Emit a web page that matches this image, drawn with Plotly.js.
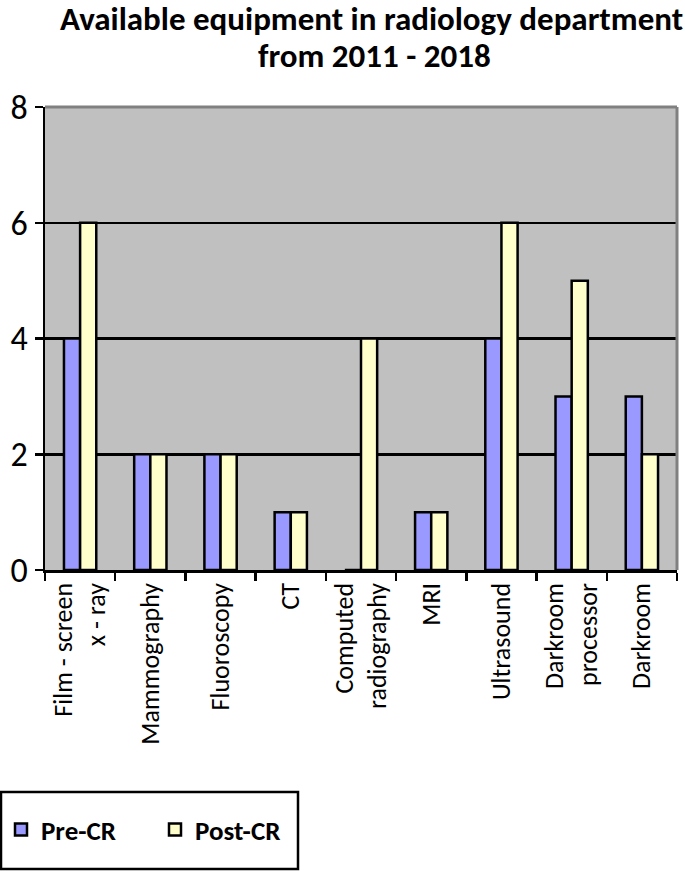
<!DOCTYPE html>
<html>
<head>
<meta charset="utf-8">
<script src="https://cdn.plot.ly/plotly-3.0.1.min.js"></script>
<style>html,body{margin:0;padding:0;background:#fff;}#chart{width:685px;height:871px;}</style>
</head>
<body>
<div id="chart"></div>
<script>
var categories = ["Film - screen<br>x - ray", "Mammography", "Fluoroscopy", "CT", "Computed<br>radiography", "MRI", "Ultrasound", "Darkroom<br>processor", "Darkroom"];
var preCR = [4, 2, 2, 1, 0, 1, 4, 3, 3];
var postCR = [6, 2, 2, 1, 4, 1, 6, 5, 2];
var seriesNames = ["Pre-CR", "Post-CR"];
var titleLines = ["Available equipment in radiology department", "from 2011 - 2018"];
var yTicks = [0, 2, 4, 6, 8];

var FONT = "Carlito, 'Open Sans', sans-serif";
var L = 45, R = 8, T = 107, B = 301, W = 685, H = 871;
var pw = W - L - R, ph = H - T - B;
function px(x) { return (x - L) / pw; }
function py(y) { return (H - B - y) / ph; }

var traces = [
  {type: "bar", name: seriesNames[0], x: categories, y: preCR,
   marker: {color: "#9999ff", line: {color: "#000", width: 2.5}}},
  {type: "bar", name: seriesNames[1], x: categories, y: postCR,
   marker: {color: "#ffffcc", line: {color: "#000", width: 2.5}}}
];

var layout = {
  width: W, height: H,
  margin: {l: L, r: R, t: T, b: B, pad: 0, autoexpand: false},
  paper_bgcolor: "#fff",
  plot_bgcolor: "#c0c0c0",
  barmode: "group",
  bargap: 0.54,
  bargroupgap: 0,
  showlegend: true,
  font: {family: FONT, color: "#000"},
  xaxis: {
    type: "category",
    automargin: false,
    tickangle: -90,
    tickson: "boundaries",
    ticks: "outside", ticklen: 8, tickwidth: 2.5, tickcolor: "#000",
    showline: true, linecolor: "#000", linewidth: 2.5,
    showgrid: false,
    tickfont: {family: FONT, size: 26, color: "#000"},
    fixedrange: true
  },
  yaxis: {
    range: [0, 8],
    automargin: false,
    tickvals: yTicks,
    ticks: "outside", ticklen: 8, tickwidth: 2.5, tickcolor: "#000",
    showline: true, linecolor: "#000", linewidth: 2.5,
    showgrid: true, gridcolor: "#000", gridwidth: 2.5,
    zeroline: false,
    tickfont: {family: FONT, size: 34, color: "#000"},
    fixedrange: true
  },
  legend: {
    orientation: "h",
    x: px(1), xanchor: "left",
    y: py(830), yanchor: "middle",
    bgcolor: "rgba(0,0,0,0)",
    borderwidth: 0,
    entrywidth: 109, entrywidthmode: "pixels",
    font: {family: FONT, size: 27, color: "#000", weight: "bold"}
  },
  shapes: [
    {type: "line", xref: "paper", yref: "paper", x0: 0, x1: 1, y0: 1, y1: 1,
     line: {color: "#808080", width: 3}, layer: "above"},
    {type: "line", xref: "paper", yref: "paper", x0: 1, x1: 1, y0: 0, y1: 1,
     line: {color: "#808080", width: 3}, layer: "above"},
    {type: "rect", xref: "paper", yref: "paper", x0: px(1), x1: px(298), y0: py(792), y1: py(869),
     line: {color: "#000", width: 2.5}, fillcolor: "rgba(255,255,255,0)", layer: "above"}
  ],
  annotations: [
    {text: titleLines[0], xref: "paper", yref: "paper", x: px(371), y: py(19),
     xanchor: "center", yanchor: "middle", showarrow: false,
     font: {family: FONT, size: 33, color: "#000", weight: "bold"}},
    {text: titleLines[1], xref: "paper", yref: "paper", x: px(374), y: py(56),
     xanchor: "center", yanchor: "middle", showarrow: false,
     font: {family: FONT, size: 33, color: "#000", weight: "bold"}}
  ]
};

Plotly.newPlot("chart", traces, layout, {displayModeBar: false, staticPlot: true});
</script>
</body>
</html>
